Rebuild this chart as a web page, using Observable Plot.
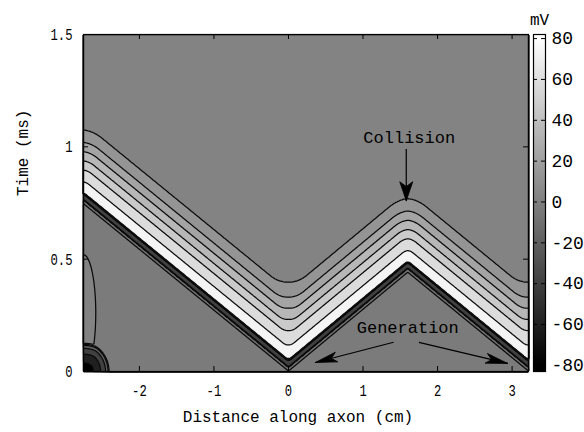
<!DOCTYPE html>
<html><head><meta charset="utf-8">
<script src="https://cdn.jsdelivr.net/npm/d3@7"></script>
<script src="https://cdn.jsdelivr.net/npm/@observablehq/plot@0.6"></script>
<style>
body{margin:0;background:#fff;}
#wrap{position:relative;width:584px;height:432px;overflow:hidden;background:#fff;}
#wrap svg{position:absolute;top:0;}
</style></head><body><div id="wrap"></div>
<script>
// ---- axes ----
const xDomain = [-2.75, 3.22];          // cm
const tDomain = [0, 1.5];               // ms
const xTicks = [-2, -1, 0, 1, 2, 3];
const tTicks = [0, 0.5, 1, 1.5];
const cbTicks = [80, 60, 40, 20, 0, -20, -40, -60, -80];
const cbDomain = [-83, 82];

// ---- arrival time of the wave foot along the axon ----
const frontX = [-2.75, 0, 1.6, 3.22];
const frontT = [0.745, 0.0, 0.44, 0.0];

// ---- potential profile vs time since arrival (ms -> mV, colour-bar units) ----
const apTau = [-0.03, -0.004, 0.006, 0.018, 0.025, 0.045, 0.053, 0.062, 0.09, 0.107, 0.165, 0.21, 0.255, 0.30, 0.36, 0.48, 2.0];
const apMv  = [0, 0, -5, -6, -35, -35, 92, 92, 80, 73, 58, 47, 35, 23, 13, 6, 5];

// ---- contour levels ----
const levels = [-100, -80, -60, -40, -20, -8, -3, 2, 13, 23, 35, 47, 58, 73];

// ---- local stimulus artefact at the left end ----
const stimX  = [-2.75, -2.75];
const stimT  = [0, 0.26];
const stimRx = [0.35, 0.19];
const stimRt = [0.13, 0.3];
const stimMv = [-70, 8];
const smoothRate = 0.7; // cm per ms of rounding of late contours

// ---- annotations ----
const notes = [{label: "Collision", x: 1.62, t: 1.04}, {label: "Generation", x: 1.6, t: 0.196}];
const arrows = [
  {x1: 1.58, t1: 0.99, x2: 1.58, t2: 0.76, len: 19, half: 6.5},
  {x1: 1.41, t1: 0.13, x2: 0.36, t2: 0.04, len: 22, half: 5},
  {x1: 1.75, t1: 0.13, x2: 2.94, t2: 0.036, len: 22, half: 5}
];

// ---------------------------------------------------------------
function interp(xs, ys, x) {
  const n = xs.length;
  if (x <= xs[0]) return ys[0];
  if (x >= xs[n - 1]) return ys[n - 1];
  const i = d3.bisectRight(xs, x) - 1;
  const u = (x - xs[i]) / (xs[i + 1] - xs[i]);
  return ys[i] + u * (ys[i + 1] - ys[i]);
}
const L = xDomain[1] - xDomain[0];
function Traw(x) {
  let u = x - xDomain[0];
  u = ((u % (2 * L)) + 2 * L) % (2 * L);
  if (u > L) u = 2 * L - u;
  return interp(frontX, frontT, xDomain[0] + u);
}
const ext = 1.5, N = 6000;
const gx0 = xDomain[0] - ext, gx1 = xDomain[1] + ext, h = (gx1 - gx0) / N;
const cum = new Float64Array(N + 1);
{ let prev = Traw(gx0);
  for (let i = 1; i <= N; i++) { const cur = Traw(gx0 + i * h); cum[i] = cum[i - 1] + (prev + cur) / 2 * h; prev = cur; } }
function F(x) { const u = (x - gx0) / h; const i = Math.max(0, Math.min(N - 1, Math.floor(u))); const f = u - i; return cum[i] + f * (cum[i + 1] - cum[i]); }
function Tsm(x, r) { if (r < 1e-3) return Traw(x); r = Math.min(r, ext); return (F(x + r) - F(x - r)) / (2 * r); }
function field(x, t) {
  const r = smoothRate * Math.max(0, t - Traw(x));
  const tau = t - Tsm(x, r);
  let v = interp(apTau, apMv, tau);
  for (let k = 0; k < stimX.length; k++) {
    const dx = (x - stimX[k]) / stimRx[k], dt = (t - stimT[k]) / stimRt[k];
    const d2 = dx * dx + dt * dt;
    if (d2 < 1) v += stimMv[k] * (1 - d2);
  }
  return v;
}
const fmt = d => (d < 0 ? "-" + (-d) : String(d));

const W = 584, H = 432, mT = 34, mB = 61, mL = 83, mR = 56;
const pw = W - mL - mR, ph = H - mT - mB;
const pxCm = pw / (xDomain[1] - xDomain[0]), pxMs = ph / (tDomain[1] - tDomain[0]);

// arrow-head outlines (barbed), built in data units from each arrow's end points
const heads = [];
arrows.forEach((a, i) => {
  const dx = (a.x2 - a.x1) * pxCm, dy = -(a.t2 - a.t1) * pxMs;
  const n = Math.hypot(dx, dy), ux = dx / n, uy = dy / n, nx = -uy, ny = ux;
  const pts = [[0, 0], [-a.len * ux + a.half * nx, -a.len * uy + a.half * ny], [-0.75 * a.len * ux, -0.75 * a.len * uy], [-a.len * ux - a.half * nx, -a.len * uy - a.half * ny], [0, 0]];
  pts.forEach(([px, py]) => heads.push({id: i, x: a.x2 + px / pxCm, t: a.t2 - py / pxMs}));
});

const font = "'Liberation Mono', 'DejaVu Sans Mono', monospace";
const main = Plot.plot({
  width: W, height: H, marginTop: mT, marginBottom: mB, marginLeft: mL, marginRight: mR,
  x: {domain: xDomain, axis: null},
  y: {domain: tDomain, axis: null},
  color: {type: "linear", domain: [-80, 80], range: ["#000000", "#ffffff"]},
  style: {fontFamily: font, fontSize: "16px", background: "white", color: "black"},
  marks: [
    Plot.contour({value: field, x1: xDomain[0], x2: xDomain[1], y1: tDomain[0], y2: tDomain[1],
      thresholds: levels, fill: "value", stroke: "#0a0a0a", strokeWidth: 1.25, pixelSize: 1}),
    Plot.frame({stroke: "black", strokeWidth: 1.2}),
    Plot.tickX(xTicks, {x: d => d, insetTop: ph - 5, stroke: "black"}),
    Plot.tickX(xTicks, {x: d => d, insetBottom: ph - 5, stroke: "black"}),
    Plot.tickY(tTicks, {y: d => d, insetRight: pw - 5, stroke: "black"}),
    Plot.tickY(tTicks, {y: d => d, insetLeft: pw - 5, stroke: "black"}),
    Plot.axisX(xTicks, {tickSize: 0, tickPadding: 12, tickFormat: fmt, label: null, fontSize: 17}),
    Plot.axisY(tTicks, {tickSize: 0, tickPadding: 11, tickFormat: d => String(d), label: null, fontSize: 17}),
    Plot.text(["Distance along axon (cm)"], {frameAnchor: "bottom", dx: -8, dy: 50, fontSize: 16}),
    Plot.text(["Time (ms)"], {frameAnchor: "left", rotate: -90, dx: -61, dy: -7, fontSize: 16}),
    Plot.text(notes, {x: "x", y: "t", text: "label", fontSize: 17}),
    Plot.link(arrows, {x1: "x1", y1: "t1", x2: "x2", y2: "t2", stroke: "black", strokeWidth: 1.2}),
    Plot.line(heads, {x: "x", y: "t", z: "id", fill: "black", stroke: "black", strokeWidth: 0.8})
  ]
});

const cb = Plot.plot({
  width: 84, height: H, marginTop: mT, marginBottom: mB, marginLeft: 33, marginRight: 39,
  x: {domain: [0, 1], axis: null},
  y: {domain: cbDomain, axis: null},
  color: {type: "linear", domain: [-80, 80], range: ["#000000", "#ffffff"], clamp: true},
  style: {fontFamily: font, fontSize: "18px", background: "transparent", color: "black", overflow: "visible"},
  marks: [
    Plot.raster({fill: (x, y) => y, x1: 0, x2: 1, y1: cbDomain[0], y2: cbDomain[1], pixelSize: 1}),
    Plot.frame({stroke: "black", strokeWidth: 1.2}),
    Plot.tickY(cbTicks, {y: d => d, insetLeft: 8, stroke: "black"}),
    Plot.tickY(cbTicks, {y: d => d, insetRight: 8, stroke: "black"}),
    Plot.axisY(cbTicks, {anchor: "right", tickSize: 0, tickPadding: 6, textAnchor: "start", tickFormat: fmt, label: null}),
    Plot.text(["mV"], {frameAnchor: "top", dy: -21, fontSize: 16})
  ]
});

const wrap = document.getElementById("wrap");
main.style.left = "0px";
cb.style.left = "500px";
wrap.appendChild(main);
wrap.appendChild(cb);

// narrower glyphs for the tick labels, as in the reference
main.querySelectorAll('g[aria-label="x-axis tick label"] text, g[aria-label="y-axis tick label"] text').forEach(t => {
  const w = t.getComputedTextLength();
  t.setAttribute("textLength", (w * 0.72).toFixed(1));
  t.setAttribute("lengthAdjust", "spacingAndGlyphs");
});
</script></body></html>
